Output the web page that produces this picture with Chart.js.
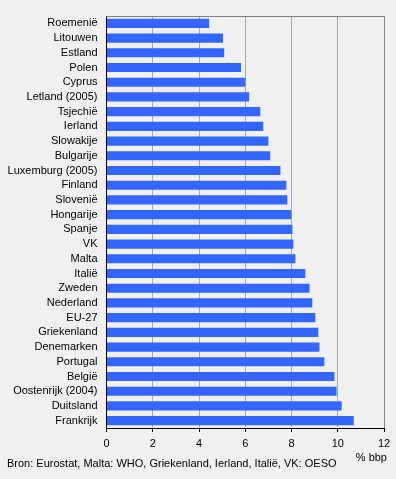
<!DOCTYPE html>
<html>
<head>
<meta charset="utf-8">
<script src="https://cdn.jsdelivr.net/npm/chart.js@4/dist/chart.umd.min.js"></script>
<style>
    html, body { margin: 0; padding: 0; background: #f0f0f0; }
    #wrap { position: relative; width: 396px; height: 479px; }
    .note { position: absolute; font: 11px "Liberation Sans", Arial, sans-serif; color: #000; white-space: nowrap; }
    #unit { right: 9px; top: 451px; }
    #source { left: 7px; top: 457px; }
</style>
</head>
<body>
<div id="wrap">
    <canvas id="chart" width="396" height="479"></canvas>
    <div class="note" id="unit">% bbp</div>
    <div class="note" id="source">Bron: Eurostat, Malta: WHO, Griekenland, Ierland, Italië, VK: OESO</div>
</div>
<script>
// Health spending as % of GDP
var countries = [
    'Roemenië', 'Litouwen', 'Estland', 'Polen', 'Cyprus', 'Letland (2005)',
    'Tsjechië', 'Ierland', 'Slowakije', 'Bulgarije', 'Luxemburg (2005)',
    'Finland', 'Slovenië', 'Hongarije', 'Spanje', 'VK', 'Malta', 'Italië',
    'Zweden', 'Nederland', 'EU-27', 'Griekenland', 'Denemarken', 'Portugal',
    'België', 'Oostenrijk (2004)', 'Duitsland', 'Frankrijk'
];

var percentGdp = [
    4.44, 5.04, 5.09, 5.82, 6.0, 6.17,
    6.65, 6.78, 7.0, 7.08, 7.52,
    7.78, 7.82, 7.99, 8.04, 8.08, 8.17, 8.6,
    8.78, 8.9, 9.03, 9.16, 9.21, 9.42,
    9.86, 9.95, 10.17, 10.69
];

var xTicks = [0, 2, 4, 6, 8, 10, 12];

var font = { family: '"Liberation Sans", Arial, sans-serif', size: 11 };

// Gray frame along the top of the plot area
var topFrame = {
    id: 'topFrame',
    afterDraw: function (chart) {
        var a = chart.chartArea;
        var ctx = chart.ctx;
        ctx.save();
        ctx.strokeStyle = '#808080';
        ctx.lineWidth = 1;
        ctx.beginPath();
        ctx.moveTo(a.left, a.top + 0.5);
        ctx.lineTo(a.right, a.top + 0.5);
        ctx.stroke();
        ctx.restore();
    }
};

new Chart(document.getElementById('chart').getContext('2d'), {
    type: 'bar',
    data: {
        labels: countries,
        datasets: [{
            data: percentGdp,
            backgroundColor: '#3366ff',
            borderWidth: 0,
            categoryPercentage: 1,
            barPercentage: 0.62
        }]
    },
    options: {
        indexAxis: 'y',
        responsive: false,
        animation: false,
        layout: { padding: { top: 16, right: 12, left: 0, bottom: 0 } },
        plugins: {
            legend: { display: false },
            tooltip: { enabled: false }
        },
        scales: {
            x: {
                min: 0,
                max: 12,
                afterBuildTicks: function (scale) {
                    scale.ticks = xTicks.map(function (v) { return { value: v }; });
                },
                afterFit: function (scale) { scale.height = 51; },
                grid: {
                    color: function (c) { return c.tick && c.tick.value === 12 ? '#808080' : '#a8a8a8'; },
                    tickColor: '#000',
                    tickLength: 4
                },
                border: { color: '#000' },
                ticks: { color: '#000', font: font, padding: 5, maxRotation: 0 }
            },
            y: {
                afterFit: function (scale) { scale.width = 106.5; },
                grid: { display: false, drawTicks: false },
                border: { color: '#000' },
                ticks: { color: '#000', font: font, padding: 9, autoSkip: false }
            }
        }
    },
    plugins: [topFrame]
});
</script>
</body>
</html>
